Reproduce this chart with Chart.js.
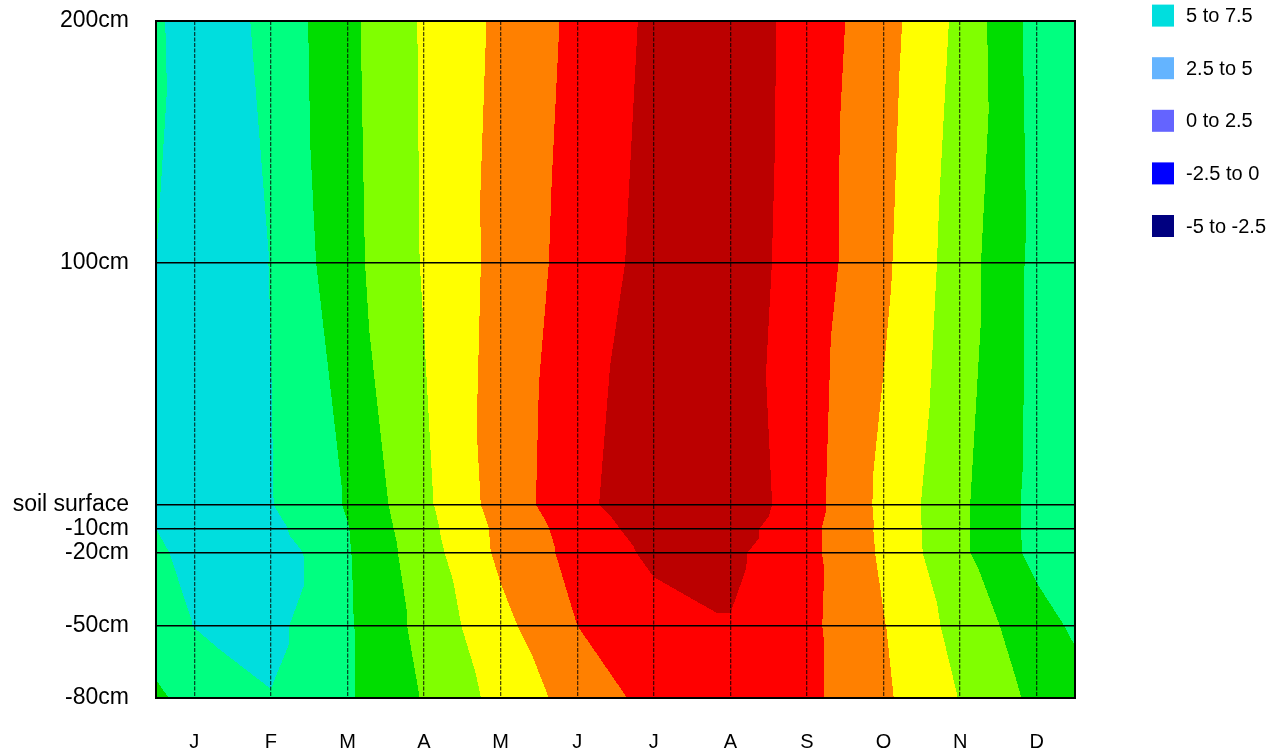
<!DOCTYPE html>
<html>
<head>
<meta charset="utf-8">
<title>Soil temperature by depth</title>
<script src="https://cdn.jsdelivr.net/npm/chart.js@4.4.1/dist/chart.umd.min.js"></script>
<style>
  html, body { margin: 0; padding: 0; background: #fff; }
  #wrap { width: 1282px; height: 755px; }
</style>
</head>
<body>
<div id="wrap"><canvas id="soilChart"></canvas></div>
<script>
const months = ['J', 'F', 'M', 'A', 'M', 'J', 'J', 'A', 'S', 'O', 'N', 'D'];
const monthPos = [0.5, 1.5, 2.5, 3.5, 4.5, 5.5, 6.5, 7.5, 8.5, 9.5, 10.5, 11.5];
const depths = [200, 100, 0, -10, -20, -50, -80];
const depthLabels = ['200cm', '100cm', 'soil surface', '-10cm', '-20cm', '-50cm', '-80cm'];

// mean temperature (deg C) per depth, Jan..Dec
const t200 = [5.6, 8.2, 11.9, 15.3, 18.0, 20.6, 23.0, 24.0, 21.5, 18.5, 14.4, 9.0];
const t100 = [6.0, 7.55, 11.7, 15.2, 18.3, 21.0, 23.4, 23.8, 21.4, 18.0, 13.7, 9.3];
const t0   = [6.2, 7.4, 10.2, 14.5, 18.55, 21.7, 24.5, 24.3, 21.0, 16.9, 13.0, 9.2];
const tm10 = [6.3, 6.8, 9.9, 14.2, 18.1, 21.1, 23.6, 23.6, 20.7, 17.0, 13.0, 9.2];
const tm20 = [6.2, 5.8, 9.8, 13.9, 18.0, 20.8, 23.0, 23.0, 20.7, 17.1, 13.0, 9.3];
const tm50 = [7.45, 6.8, 9.7, 13.3, 16.8, 20.0, 21.5, 22.4, 20.6, 17.6, 14.1, 11.0];
const tm80 = [9.0, 7.6, 9.7, 12.7, 15.8, 18.5, 20.8, 21.0, 20.6, 17.9, 14.9, 11.9];
// values at the start / end of the year (plot edges)
const edgeLeft  = [8.1, 7.5, 7.2, 7.5, 8.2, 8.5, 10.5];
const edgeRight = [8.5, 8.5, 8.5, 8.7, 9.0, 9.6, 11.0];

const bandLimits = [-5, -2.5, 0, 2.5, 5, 7.5, 10, 12.5, 15, 17.5, 20, 22.5, 25];
const bandColors = ['#000080', '#0000ff', '#6464ff', '#64b4ff', '#00dede', '#00ff80',
                    '#00dd00', '#80ff00', '#ffff00', '#ff8000', '#ff0000', '#bb0000'];

const rows = [t200, t100, t0, tm10, tm20, tm50, tm80];
const xNodes = [0, ...monthPos, 12];
const grid = rows.map((r, i) => [edgeLeft[i], ...r, edgeRight[i]]);

const nodes = [];
depths.forEach((d, i) => xNodes.forEach((x, j) => nodes.push({ x: x, y: d, v: grid[i][j] })));

const labelFont = '"Liberation Sans", Arial, sans-serif';

function findCell(arr, p) {
  // arr: monotone pixel positions of the nodes
  let i = 0;
  const inc = arr[arr.length - 1] > arr[0];
  while (i < arr.length - 2 && (inc ? p > arr[i + 1] : p < arr[i + 1])) i++;
  let f = (p - arr[i]) / (arr[i + 1] - arr[i]);
  f = Math.max(0, Math.min(1, f));
  return [i, f];
}

// filled contours, linear on triangles (cells split top-left -> bottom-right)
const contourFill = {
  id: 'contourFill',
  beforeDraw(chart) {
    const { ctx, chartArea: area, scales: { x, y } } = chart;
    const xs = xNodes.map(v => x.getPixelForValue(v));
    const ys = depths.map(v => y.getPixelForValue(v));
    const w = Math.round(area.right - area.left);
    const h = Math.round(area.bottom - area.top);
    const off = document.createElement('canvas');
    off.width = w; off.height = h;
    const octx = off.getContext('2d');
    const img = octx.createImageData(w, h);
    const rgb = bandColors.map(c => [parseInt(c.slice(1, 3), 16), parseInt(c.slice(3, 5), 16), parseInt(c.slice(5, 7), 16)]);
    const step = bandLimits[1] - bandLimits[0];

    const cols = [];
    for (let px = 0; px < w; px++) cols.push(findCell(xs, area.left + px + 0.5));

    for (let py = 0; py < h; py++) {
      const [i, fy] = findCell(ys, area.top + py + 0.5);
      const r0 = grid[i], r1 = grid[i + 1];
      for (let px = 0; px < w; px++) {
        const [j, fx] = cols[px];
        const tl = r0[j], tr = r0[j + 1], bl = r1[j], br = r1[j + 1];
        let v;
        if (fx >= fy) v = tl + (tr - tl) * fx + (br - tr) * fy;
        else v = tl + (bl - tl) * fy + (br - bl) * fx;
        let b = Math.floor((v - bandLimits[0]) / step);
        b = Math.max(0, Math.min(bandColors.length - 1, b));
        const k = (py * w + px) * 4;
        img.data[k] = rgb[b][0];
        img.data[k + 1] = rgb[b][1];
        img.data[k + 2] = rgb[b][2];
        img.data[k + 3] = 255;
      }
    }
    octx.putImageData(img, 0, 0);
    ctx.drawImage(off, area.left, area.top);
  }
};

// frame + band legend (highest band on top, list runs off the top of the page)
const frameAndLegend = {
  id: 'frameAndLegend',
  afterDraw(chart) {
    const { ctx, chartArea: area } = chart;
    ctx.save();
    ctx.strokeStyle = '#000';
    ctx.lineWidth = 2;
    ctx.strokeRect(area.left, area.top, area.right - area.left, area.bottom - area.top);

    ctx.font = '20px ' + labelFont;
    ctx.textBaseline = 'middle';
    const n = bandColors.length;
    for (let b = 0; b < n; b++) {
      const cy = 226 - b * 52.6;
      ctx.fillStyle = bandColors[b];
      ctx.fillRect(1152, cy - 11, 22, 22);
      ctx.fillStyle = '#000';
      ctx.fillText(bandLimits[b] + ' to ' + bandLimits[b + 1], 1186, cy + 1);
    }
    ctx.restore();
  }
};

new Chart(document.getElementById('soilChart'), {
  type: 'scatter',
  data: {
    datasets: [{ data: nodes, pointRadius: 0, pointHoverRadius: 0, showLine: false }]
  },
  options: {
    responsive: true,
    maintainAspectRatio: false,
    animation: false,
    layout: { padding: { top: 21, right: 207, left: 0, bottom: 0 } },
    plugins: { legend: { display: false }, tooltip: { enabled: false } },
    scales: {
      x: {
        type: 'linear', min: 0, max: 12,
        afterBuildTicks: s => { s.ticks = monthPos.map(v => ({ value: v })); },
        afterFit: s => { s.height = 57; s.paddingLeft = 0; s.paddingRight = 0; },
        ticks: {
          autoSkip: false, maxRotation: 0, color: '#000', padding: 32,
          font: { family: labelFont, size: 20 },
          callback: v => months[Math.round(v - 0.5)]
        },
        grid: { color: 'rgba(0,0,0,0.7)', lineWidth: 1.3, drawTicks: false },
        border: { display: false, dash: [4, 1.5] }
      },
      y: {
        type: 'linear', min: -80, max: 200,
        afterBuildTicks: s => { s.ticks = depths.slice().reverse().map(v => ({ value: v })); },
        afterFit: s => { s.width = 156; s.paddingTop = 0; s.paddingBottom = 0; },
        ticks: {
          autoSkip: false, color: '#000', padding: 27,
          font: { family: labelFont, size: 23 },
          callback: v => depthLabels[depths.indexOf(v)]
        },
        grid: { color: '#000', lineWidth: 1.5, drawTicks: false },
        border: { display: false }
      }
    }
  },
  plugins: [contourFill, frameAndLegend]
});
</script>
</body>
</html>
